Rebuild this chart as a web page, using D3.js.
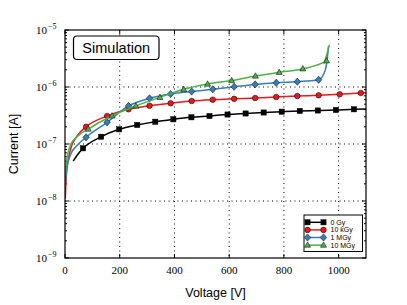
<!DOCTYPE html>
<html>
<head>
<meta charset="utf-8">
<script src="https://cdn.jsdelivr.net/npm/d3@7"></script>
<style>
  body { margin: 0; background: #fff; }
  svg { display: block; }
</style>
</head>
<body>
<svg id="chart" width="407" height="305"></svg>
<script>
// marker voltages [V] and currents [A]
const blackV = [66, 132, 198, 264, 330, 396, 462, 528, 594, 660, 726, 792, 858, 924, 990, 1056];
const blackI = [8.4e-8, 1.34e-7, 1.81e-7, 2.16e-7, 2.46e-7, 2.71e-7, 2.94e-7, 3.10e-7, 3.29e-7, 3.43e-7, 3.57e-7, 3.69e-7, 3.80e-7, 3.87e-7, 3.95e-7, 4.06e-7];
const redV = [77, 154, 232, 309, 386, 463, 540, 618, 695, 772, 849, 927, 1004, 1081];
const redI = [2.0e-7, 3.1e-7, 4.06e-7, 4.7e-7, 5.18e-7, 5.68e-7, 5.99e-7, 6.21e-7, 6.41e-7, 6.68e-7, 6.95e-7, 7.15e-7, 7.44e-7, 7.85e-7];
const blueV = [77, 154, 232, 309, 386, 463, 540, 618, 695, 772, 849, 927];
const blueI = [1.31e-7, 2.4e-7, 4.65e-7, 6.34e-7, 7.53e-7, 8.34e-7, 9.12e-7, 1.01e-6, 1.11e-6, 1.19e-6, 1.24e-6, 1.34e-6];
const greenV = [85, 172, 259, 347, 434, 521, 609, 696, 783, 869, 956];
const greenI = [1.83e-7, 3.13e-7, 4.65e-7, 6.59e-7, 9.12e-7, 1.13e-6, 1.3e-6, 1.56e-6, 1.81e-6, 2.09e-6, 2.89e-6];

// extra curve points (start near 0 V and the ends)
const blackStartV = [30, 45], blackStartI = [5.0e-8, 6.4e-8];
const blackEndV = [1100], blackEndI = [4.1e-7];
const redStartV = [1, 5, 20, 45], redStartI = [1.1e-8, 2.8e-8, 8.0e-8, 1.4e-7];
const redEndV = [1100], redEndI = [7.9e-7];
const blueStartV = [1, 5, 20, 45], blueStartI = [1.8e-8, 3.5e-8, 6.5e-8, 9.5e-8];
const blueEndV = [950, 958, 963], blueEndI = [1.9e-6, 3.0e-6, 5.2e-6];
const greenStartV = [1, 5, 20, 45], greenStartI = [2.4e-8, 4.8e-8, 9.5e-8, 1.35e-7];
const greenEndV = [945, 966], greenEndI = [2.6e-6, 5.5e-6];

const legendNames = ['0 Gy', '10 kGy', '1 MGy', '10 MGy'];
const xTicks = [0, 200, 400, 600, 800, 1000];
const yTicks = [1e-9, 1e-8, 1e-7, 1e-6, 1e-5];

const zip = (vs, is) => vs.map((v, i) => ({ v, i: is[i] }));

const series = [
  { name: legendNames[0], color: '#000000', shape: 'square',
    marks: zip(blackV, blackI), line: zip(blackStartV.concat(blackV, blackEndV), blackStartI.concat(blackI, blackEndI)) },
  { name: legendNames[1], color: '#e41a1c', shape: 'circle',
    marks: zip(redV, redI), line: zip(redStartV.concat(redV, redEndV), redStartI.concat(redI, redEndI)) },
  { name: legendNames[2], color: '#377eb8', shape: 'diamond',
    marks: zip(blueV, blueI), line: zip(blueStartV.concat(blueV, blueEndV), blueStartI.concat(blueI, blueEndI)) },
  { name: legendNames[3], color: '#4daf4a', shape: 'triangle',
    marks: zip(greenV, greenI), line: zip(greenStartV.concat(greenV, greenEndV), greenStartI.concat(greenI, greenEndI)) }
];

const svg = d3.select('#chart');
const pLeft = 65, pRight = 366, pTop = 30, pBottom = 258;

const x = d3.scaleLinear().domain([0, 1100]).range([pLeft, pRight]);
const y = d3.scaleLog().domain([1e-9, 1e-5]).range([pBottom, pTop]);

const serif = '"Liberation Serif", "DejaVu Serif", serif';
const sans = '"Liberation Sans", Arial, sans-serif';

svg.append('clipPath').attr('id', 'plotclip')
  .append('rect').attr('x', pLeft).attr('y', pTop).attr('width', pRight - pLeft).attr('height', pBottom - pTop);

// grid
const grid = svg.append('g').attr('stroke', '#000').attr('stroke-width', 1)
  .attr('stroke-dasharray', '1,3.5');
grid.selectAll('.gx').data(xTicks.slice(1)).enter().append('line')
  .attr('x1', d => x(d)).attr('x2', d => x(d)).attr('y1', pTop).attr('y2', pBottom);
grid.selectAll('.gy').data(yTicks.slice(1, -1)).enter().append('line')
  .attr('y1', d => y(d)).attr('y2', d => y(d)).attr('x1', pLeft).attr('x2', pRight);

// ticks (inside, all four sides)
const ticks = svg.append('g').attr('stroke', '#000').attr('stroke-width', 1);
xTicks.forEach(t => {
  ticks.append('line').attr('x1', x(t)).attr('x2', x(t)).attr('y1', pBottom).attr('y2', pBottom - 4);
  ticks.append('line').attr('x1', x(t)).attr('x2', x(t)).attr('y1', pTop).attr('y2', pTop + 4);
});
yTicks.forEach(t => {
  ticks.append('line').attr('y1', y(t)).attr('y2', y(t)).attr('x1', pLeft).attr('x2', pLeft + 4);
  ticks.append('line').attr('y1', y(t)).attr('y2', y(t)).attr('x1', pRight).attr('x2', pRight - 4);
});
yTicks.slice(0, -1).forEach(t => {
  for (let k = 2; k <= 9; k++) {
    const yy = y(t * k);
    ticks.append('line').attr('y1', yy).attr('y2', yy).attr('x1', pLeft).attr('x2', pLeft + 2);
    ticks.append('line').attr('y1', yy).attr('y2', yy).attr('x1', pRight).attr('x2', pRight - 2);
  }
});

// lines and markers
const line = d3.line().x(d => x(d.v)).y(d => y(d.i)).curve(d3.curveMonotoneX);
const plot = svg.append('g').attr('clip-path', 'url(#plotclip)');

function drawMarker(g, shape, color, cx, cy) {
  if (shape === 'square') {
    g.append('rect').attr('x', cx - 2.6).attr('y', cy - 2.6).attr('width', 5.2).attr('height', 5.2)
      .attr('fill', color).attr('stroke', '#000').attr('stroke-width', 0.5);
  } else if (shape === 'circle') {
    g.append('circle').attr('cx', cx).attr('cy', cy).attr('r', 2.8)
      .attr('fill', color).attr('stroke', '#000').attr('stroke-width', 0.5);
  } else if (shape === 'diamond') {
    g.append('path').attr('d', `M${cx},${cy - 3.6}L${cx + 3.2},${cy}L${cx},${cy + 3.6}L${cx - 3.2},${cy}Z`)
      .attr('fill', color).attr('stroke', '#000').attr('stroke-width', 0.5);
  } else {
    g.append('path').attr('d', `M${cx},${cy - 3.2}L${cx + 3},${cy + 2.2}L${cx - 3},${cy + 2.2}Z`)
      .attr('fill', color).attr('stroke', '#000').attr('stroke-width', 0.5);
  }
}

series.forEach(s => {
  plot.append('path').datum(s.line)
    .attr('fill', 'none').attr('stroke', s.color).attr('stroke-width', 1.5)
    .attr('d', line);
  const mg = plot.append('g');
  s.marks.forEach(d => drawMarker(mg, s.shape, s.color, x(d.v), y(d.i)));
});

// frame
svg.append('rect').attr('x', pLeft).attr('y', pTop).attr('width', pRight - pLeft).attr('height', pBottom - pTop)
  .attr('fill', 'none').attr('stroke', '#000').attr('stroke-width', 1.2);

// tick labels
svg.selectAll('.xl').data(xTicks).enter().append('text')
  .attr('x', d => x(d)).attr('y', pBottom + 16)
  .attr('text-anchor', 'middle').attr('font-family', serif).attr('font-size', 11)
  .text(d => d);

yTicks.forEach(t => {
  const e = Math.round(Math.log10(t));
  svg.append('text').attr('x', pLeft - 18).attr('y', y(t) + 4)
    .attr('text-anchor', 'end').attr('font-family', serif).attr('font-size', 11).text('10');
  svg.append('text').attr('x', pLeft - 17).attr('y', y(t) - 1)
    .attr('font-family', serif).attr('font-size', 8).text('\u2212' + Math.abs(e));
});

// axis labels
svg.append('text').attr('x', (pLeft + pRight) / 2).attr('y', 297)
  .attr('text-anchor', 'middle').attr('font-family', sans).attr('font-size', 12.5).text('Voltage [V]');
svg.append('text').attr('transform', `translate(18,${(pTop + pBottom) / 2}) rotate(-90)`)
  .attr('text-anchor', 'middle').attr('font-family', sans).attr('font-size', 12.5).text('Current [A]');

// Simulation box
svg.append('rect').attr('x', 73.5).attr('y', 36).attr('width', 85.5).attr('height', 23.5)
  .attr('rx', 3.5).attr('fill', '#fff').attr('stroke', '#000').attr('stroke-width', 1.2);
svg.append('text').attr('x', 116.2).attr('y', 53).attr('text-anchor', 'middle')
  .attr('font-family', sans).attr('font-size', 14.5).text('Simulation');

// legend
const lg = svg.append('g');
lg.append('rect').attr('x', 304).attr('y', 215).attr('width', 58.5).attr('height', 36.5)
  .attr('fill', '#fff').attr('stroke', '#000').attr('stroke-width', 1);
series.forEach((s, k) => {
  const yy = 222.3 + k * 7.6;
  lg.append('line').attr('x1', 307.5).attr('x2', 323.5).attr('y1', yy).attr('y2', yy)
    .attr('stroke', s.color).attr('stroke-width', 1.5);
  drawMarker(lg, s.shape, s.color, 307.5, yy);
  drawMarker(lg, s.shape, s.color, 323.5, yy);
  lg.append('text').attr('x', 330.5).attr('y', yy + 2.5)
    .attr('font-family', sans).attr('font-size', 7).text(s.name);
});
</script>
</body>
</html>
